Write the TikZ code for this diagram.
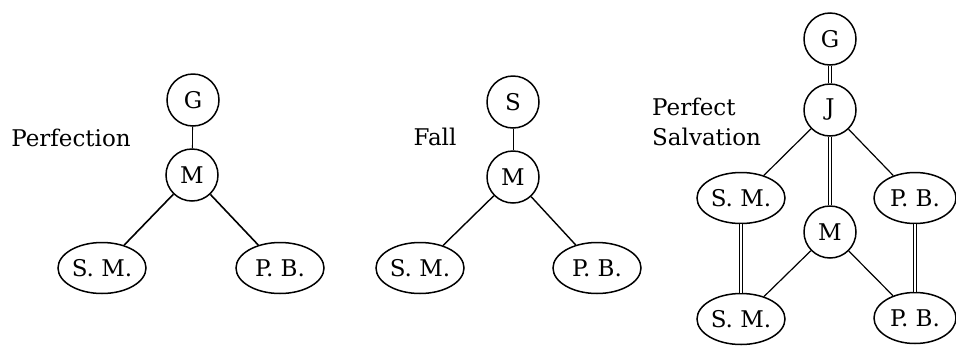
\documentclass[tikz,border=0pt]{standalone}
\usepackage{fontspec}
\setmainfont{DejaVu Serif}
\usetikzlibrary{shapes.geometric}
\begin{document}
\begin{tikzpicture}[x=1pt,y=-1pt,
  every node/.style={font=\fontsize{23pt}{30pt}\selectfont},
  circ/.style={draw, circle, line width=1.5pt, minimum size=52pt, inner sep=0pt},
  ell/.style={draw, ellipse, line width=1.5pt, minimum width=88pt, minimum height=51pt, inner sep=0pt},
  link/.style={line width=1.6pt},
  thinlink/.style={line width=0.8pt},
  dbl/.style={line width=1pt, double, double distance=2pt},
  lbl/.style={inner sep=0pt}
]
\path[use as bounding box] (0,0) rectangle (956,346);

% Perfection
\node[circ] (G1) at (193,100) {G};
\node[circ] (M1) at (192,175) {M};
\node[ell] (SM1) at (102,268) {S. M.};
\node[ell] (PB1) at (280,268) {P. B.};
\node[lbl, anchor=base] (L1) at (71,146) {Perfection};
\draw[thinlink] (G1) -- (M1);
\draw[link] (M1) -- (SM1);
\draw[link] (M1) -- (PB1);

% Fall
\node[circ] (S2) at (513,102) {S};
\node[circ] (M2) at (513,177) {M};
\node[ell] (SM2) at (420,268) {S. M.};
\node[ell] (PB2) at (597,268) {P. B.};
\node[lbl, anchor=base] (L2) at (435,145) {Fall};
\draw[thinlink] (S2) -- (M2);
\draw[link, line width=1.4pt] (M2) -- (SM2);
\draw[link, line width=1.4pt] (M2) -- (PB2);

% Perfect Salvation
\node[circ] (G3) at (830,39) {G};
\node[circ] (J3) at (830,110) {J};
\node[circ] (M3) at (830,232) {M};
\node[ell] (SM3a) at (741,198) {S. M.};
\node[ell, minimum width=82pt] (PB3a) at (915,198) {P. B.};
\node[ell] (SM3b) at (741,319) {S. M.};
\node[ell, minimum width=82pt] (PB3b) at (915,318) {P. B.};
\node[lbl, anchor=base west, align=left] (L3) at (652,145) {Perfect\\Salvation};
\draw[dbl] (G3) -- (J3);
\draw[dbl] (J3) -- (M3);
\draw[link, line width=1.2pt] (J3) -- (SM3a);
\draw[link, line width=1.2pt] (J3) -- (PB3a);
\draw[link, line width=1.2pt] (M3) -- (SM3b);
\draw[link, line width=1.2pt] (M3) -- (PB3b);
\draw[dbl] (SM3a) -- (SM3b);
\draw[dbl] (PB3a) -- (PB3b);
\end{tikzpicture}
\end{document}
